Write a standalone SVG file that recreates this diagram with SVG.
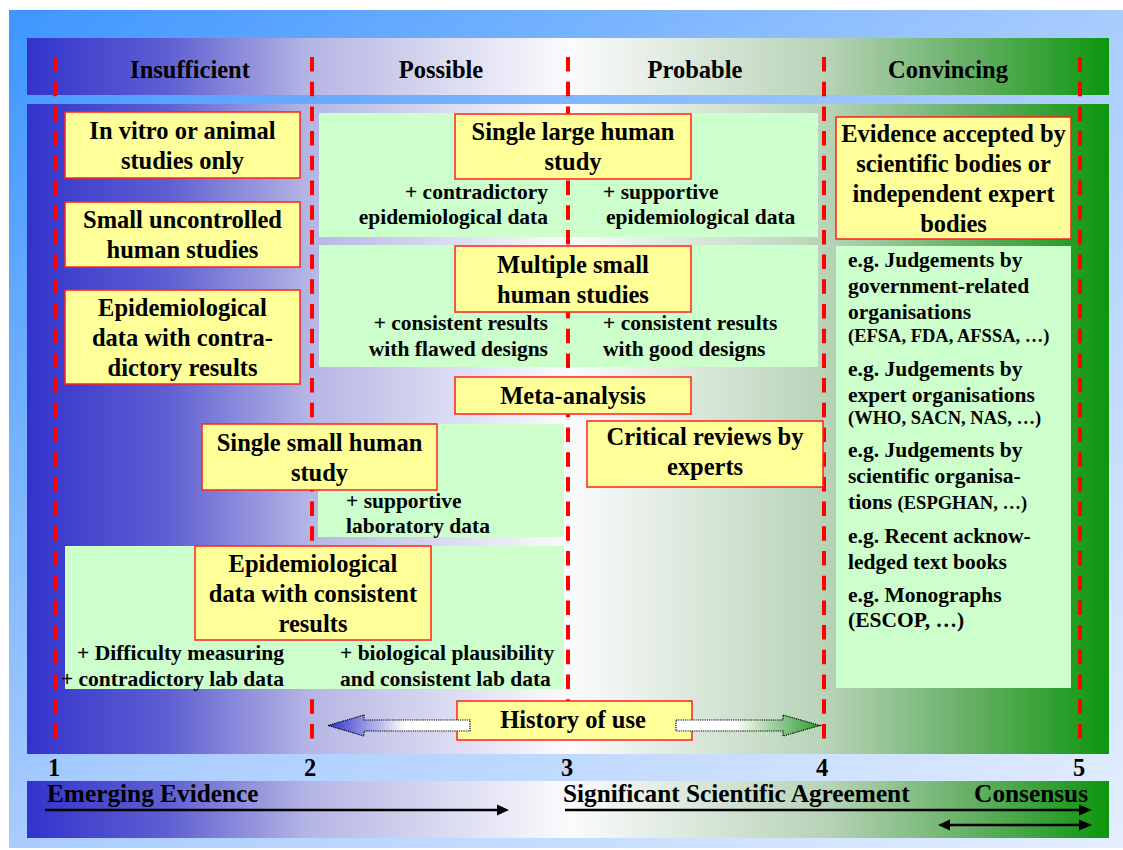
<svg xmlns="http://www.w3.org/2000/svg" width="1123" height="850" viewBox="0 0 1123 850">
<defs>
<linearGradient id="bg" x1="0" y1="0" x2="1" y2="1">
<stop offset="0" stop-color="#3d96ff"/>
<stop offset="0.5" stop-color="#a9ccff"/>
<stop offset="1" stop-color="#e4eeff"/>
</linearGradient>
<linearGradient id="band" gradientUnits="userSpaceOnUse" x1="27" y1="0" x2="1109" y2="0">
<stop offset="0" stop-color="#3333cc"/>
<stop offset="0.13" stop-color="#5f5fd2"/>
<stop offset="0.26" stop-color="#b5b5e4"/>
<stop offset="0.5" stop-color="#fbfbfd"/>
<stop offset="0.74" stop-color="#b7d3b7"/>
<stop offset="0.87" stop-color="#66b066"/>
<stop offset="1" stop-color="#0d960d"/>
</linearGradient>
<linearGradient id="arrL" x1="0" y1="0" x2="1" y2="0">
<stop offset="0" stop-color="#3333cc"/>
<stop offset="0.55" stop-color="#ffffff"/>
<stop offset="1" stop-color="#ffffff"/>
</linearGradient>
<linearGradient id="arrR" x1="0" y1="0" x2="1" y2="0">
<stop offset="0" stop-color="#ffffff"/>
<stop offset="0.4" stop-color="#ffffff"/>
<stop offset="1" stop-color="#2f9a2f"/>
</linearGradient>
<style>
.box{fill:#ffff99;stroke:#ff2020;stroke-width:1.5}
.panel{fill:#ccffcc}
.band{fill:url(#band)}
.t{font-family:"Liberation Serif","Times New Roman",serif;font-weight:bold;fill:#000}
.h{font-size:24.5px;text-anchor:middle}
.s{font-size:21.5px}
.xs{font-size:18.5px}
.c{text-anchor:middle}
.r{text-anchor:end}
.dash{stroke:#ff0000;stroke-width:4;stroke-dasharray:14.5 10.2;fill:none}
.ln{stroke:#000;stroke-width:2.5;fill:none}
.hd{fill:#000}
.ha{stroke:#000;stroke-width:1.2;stroke-dasharray:1.2 1}
</style>
</defs>

<rect x="9" y="10" width="1114" height="838" fill="url(#bg)"/>
<rect class="band" x="27" y="38" width="1082" height="57"/>
<rect class="band" x="27" y="104" width="1082" height="650"/>
<rect class="band" x="27" y="781" width="1082" height="57"/>

<g id="headers" class="t h">
<text x="190" y="78">Insufficient</text>
<text x="441" y="78">Possible</text>
<text x="695" y="78">Probable</text>
<text x="948" y="78">Convincing</text>
</g>

<g id="panel-large" class="t s">
<rect class="panel" x="319" y="113" width="499" height="124"/>
<text class="r" x="548" y="199">+ contradictory</text>
<text class="r" x="548" y="224">epidemiological data</text>
<text x="603" y="199">+ supportive</text>
<text x="606" y="224">epidemiological data</text>
</g>
<g id="panel-multiple" class="t s">
<rect class="panel" x="319" y="245" width="499" height="122"/>
<text class="r" x="548" y="330">+ consistent results</text>
<text class="r" x="548" y="356">with flawed designs</text>
<text x="603" y="330">+ consistent results</text>
<text x="603" y="356">with good designs</text>
</g>
<g id="panel-small" class="t s">
<rect class="panel" x="318" y="424" width="246" height="113"/>
<text x="346" y="508">+ supportive</text>
<text x="346" y="533">laboratory data</text>
</g>
<g id="panel-bodies" class="t s">
<rect class="panel" x="836" y="246" width="235" height="442"/>
<text x="848" y="267">e.g. Judgements by</text>
<text x="848" y="293">government-related</text>
<text x="848" y="319">organisations</text>
<text class="xs" x="848" y="342">(EFSA, FDA, AFSSA, …)</text>
<text x="848" y="376">e.g. Judgements by</text>
<text x="848" y="402">expert organisations</text>
<text class="xs" x="848" y="424">(WHO, SACN, NAS, …)</text>
<text x="848" y="457">e.g. Judgements by</text>
<text x="848" y="483">scientific organisa-</text>
<text x="848" y="509">tions <tspan class="xs">(ESPGHAN, …)</tspan></text>
<text x="848" y="543">e.g. Recent acknow-</text>
<text x="848" y="569">ledged text books</text>
<text x="848" y="602">e.g. Monographs</text>
<text x="848" y="627">(ESCOP, …)</text>
</g>

<g id="grid">
<line class="dash" x1="55" y1="57" x2="55" y2="740"/>
<line class="dash" x1="312" y1="57" x2="312" y2="740"/>
<line class="dash" x1="568" y1="57" x2="568" y2="740"/>
<line class="dash" x1="824" y1="57" x2="824" y2="740"/>
<line class="dash" x1="1080" y1="57" x2="1080" y2="740"/>
</g>

<g id="panel-consistent" class="t s">
<rect class="panel" x="65" y="546" width="499" height="143"/>
<text class="r" x="284" y="660">+ Difficulty measuring</text>
<text class="r" x="284" y="686">+ contradictory lab data</text>
<text x="340" y="660">+ biological plausibility</text>
<text x="340" y="686">and consistent lab data</text>
</g>

<g id="n-invitro" class="t h">
<rect class="box" x="65" y="112" width="235" height="66"/>
<text x="182.5" y="138.5">In vitro or animal</text>
<text x="182.5" y="168.5">studies only</text>
</g>
<g id="n-uncontrolled" class="t h">
<rect class="box" x="65" y="202" width="235" height="65"/>
<text x="182.5" y="228">Small uncontrolled</text>
<text x="182.5" y="258">human studies</text>
</g>
<g id="n-epi-contra" class="t h">
<rect class="box" x="65" y="290" width="235" height="94"/>
<text x="182.5" y="315.5">Epidemiological</text>
<text x="182.5" y="345.5">data with contra-</text>
<text x="182.5" y="375.5">dictory results</text>
</g>
<g id="n-single-large" class="t h">
<rect class="box" x="455" y="114" width="236" height="65"/>
<text x="573" y="140">Single large human</text>
<text x="573" y="170">study</text>
</g>
<g id="n-multiple" class="t h">
<rect class="box" x="455" y="246" width="236" height="66"/>
<text x="573" y="272.5">Multiple small</text>
<text x="573" y="302.5">human studies</text>
</g>
<g id="n-meta" class="t h">
<rect class="box" x="455" y="377" width="236" height="37"/>
<text x="573" y="404">Meta-analysis</text>
</g>
<g id="n-single-small" class="t h">
<rect class="box" x="202" y="424" width="235" height="66"/>
<text x="319.5" y="450.5">Single small human</text>
<text x="319.5" y="480.5">study</text>
</g>
<g id="n-critical" class="t h">
<rect class="box" x="587" y="421" width="236" height="66"/>
<text x="705" y="445">Critical reviews by</text>
<text x="705" y="475">experts</text>
</g>
<g id="n-epi-consistent" class="t h">
<rect class="box" x="195" y="546" width="236" height="94"/>
<text x="313" y="571.5">Epidemiological</text>
<text x="313" y="601.5">data with consistent</text>
<text x="313" y="631.5">results</text>
</g>
<g id="n-evidence" class="t h">
<rect class="box" x="836" y="117" width="235" height="122"/>
<text x="953.5" y="141.5">Evidence accepted by</text>
<text x="953.5" y="171.5">scientific bodies or</text>
<text x="953.5" y="201.5">independent expert</text>
<text x="953.5" y="231.5">bodies</text>
</g>
<g id="n-history" class="t h">
<rect class="box" x="457" y="701" width="235" height="39"/>
<text x="573" y="728">History of use</text>
</g>

<g id="connectors">
<polygon class="ha" fill="url(#arrL)" points="328,725.5 364,715 364,720 470,720 470,731 364,731 364,736"/>
<polygon class="ha" fill="url(#arrR)" points="676,720 783,720 783,715 820,725.5 783,736 783,731 676,731"/>
<line class="ln" x1="45" y1="810" x2="499" y2="810"/>
<polygon class="hd" points="497,804.5 509,810 497,815.5"/>
<line class="ln" x1="565" y1="810" x2="1081" y2="810"/>
<polygon class="hd" points="1079,804.5 1092,810 1079,815.5"/>
<line class="ln" x1="948" y1="825" x2="1081" y2="825"/>
<polygon class="hd" points="950,819.5 938,825 950,830.5"/>
<polygon class="hd" points="1079,819.5 1092,825 1079,830.5"/>
</g>

<g id="scale" class="t h">
<text x="54" y="776">1</text>
<text x="310" y="776">2</text>
<text x="567" y="776">3</text>
<text x="822" y="776">4</text>
<text x="1079" y="776">5</text>
</g>
<g id="bottom-labels" class="t" style="font-size:25.3px">
<text x="47" y="802">Emerging Evidence</text>
<text x="563" y="802">Significant Scientific Agreement</text>
<text x="1088" y="802" text-anchor="end">Consensus</text>
</g>
</svg>
